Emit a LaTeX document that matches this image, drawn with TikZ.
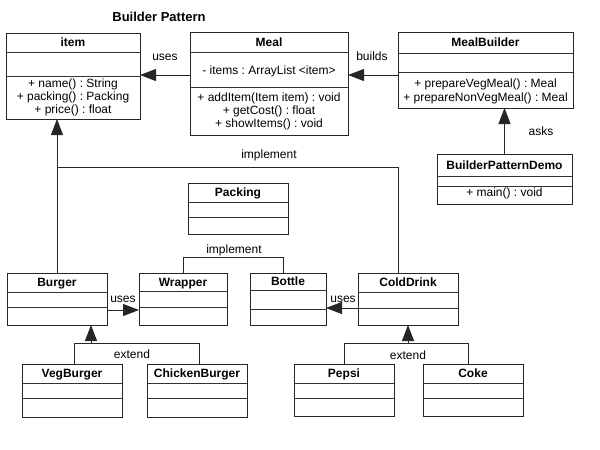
\documentclass[tikz,border=0pt]{standalone}
\usepackage{fontspec}
\setmainfont{Liberation Sans}
\usetikzlibrary{arrows.meta,calc}
\frenchspacing
\tikzset{
  cls/.style={draw=black!85, line width=0.9pt, rectangle, inner sep=0pt, outer sep=0pt, fill=white},
  div/.style={draw=black!80, line width=0.9pt},
  conn/.style={draw=black!85, line width=0.9pt},
  arr/.style={conn, -{Triangle[length=16pt,width=12pt]}},
  ttl/.style={font=\bfseries\fontsize{12}{14}\selectfont, inner sep=0pt, text height=8.6pt, text depth=0pt},
  txt/.style={font=\fontsize{12}{14}\selectfont, inner sep=0pt, text height=8.6pt, text depth=0pt},
  bigttl/.style={font=\bfseries\fontsize{13}{15}\selectfont, inner sep=0pt, text height=9.3pt, text depth=0pt}
}
\newcommand{\umlclass}[8]{%
  \node[cls, minimum width={#4pt-#2pt}, minimum height={#5pt-#3pt}] (#1) at ({(#2+#4)/2},{(#3+#5)/2}) {};
  \draw[div] (#2,#6) -- (#4,#6);
  \draw[div] (#2,#7) -- (#4,#7);
  \node[ttl] (#1-t) at ({(#2+#4)/2},{(#3+#6)/2}) {#8};
}
\newcommand{\lbl}[4]{\node[txt] (#1) at (#2,#3) {#4};}
\begin{document}
\begin{tikzpicture}[x=1pt,y=-1pt]
\useasboundingbox (0,0) rectangle (600,450);
\node[bigttl] (title) at (159,17) {Builder Pattern};

\umlclass{item}{6}{33}{140}{119}{52}{76}{item}
\umlclass{Meal}{190}{32}{348}{135}{52}{87}{Meal}
\umlclass{MB}{398}{32}{573}{108}{53}{72}{MealBuilder}
\umlclass{BPD}{437}{154}{572}{204}{176}{186}{BuilderPatternDemo}
\umlclass{Packing}{188}{183}{288}{234}{202}{217}{Packing}
\umlclass{Burger}{7}{273}{107}{325}{292}{307}{Burger}
\umlclass{Wrapper}{139}{273}{227}{325}{291}{307}{Wrapper}
\umlclass{Bottle}{250}{273}{326}{325}{290}{309}{Bottle}
\umlclass{ColdDrink}{358}{273}{458}{325}{292}{308}{ColdDrink}
\umlclass{VegBurger}{22}{364}{122}{417}{383}{398}{VegBurger}
\umlclass{ChickenBurger}{147}{364}{247}{417}{383}{398}{ChickenBurger}
\umlclass{Pepsi}{294}{364}{394}{416}{383}{398}{Pepsi}
\umlclass{Coke}{423}{364}{523}{416}{383}{398}{Coke}

% class members
\lbl{im1}{73}{83}{+ name() : String}
\lbl{im2}{73}{96}{+ packing() : Packing}
\lbl{im3}{73}{109}{+ price() : float}
\lbl{ma1}{269}{70}{- items : ArrayList <item>}
\lbl{mm1}{269}{97}{+ addItem(Item item) : void}
\lbl{mm2}{269}{110}{+ getCost() : float}
\lbl{mm3}{269}{123}{+ showItems() : void}
\lbl{bm1}{485.5}{83.5}{+ prepareVegMeal() : Meal}
\lbl{bm2}{485.5}{97.5}{+ prepareNonVegMeal() : Meal}
\lbl{dm1}{504.5}{192}{+ main() : void}

% connectors
\draw[arr] ([yshift=8.5pt]Meal.west) -- ([yshift=8.5pt]Meal.west -| item.east);
\draw[arr] ([yshift=-5pt]MB.west) -- ([yshift=-5pt]MB.west -| Meal.east);
\draw[arr] (BPD.north) -- (BPD.north |- MB.south);
\draw[arr] (Burger.north) -- (Burger.north |- item.south);
\coordinate (impy) at (0,167);
\coordinate (cdtop) at ([xshift=-10pt]ColdDrink.north);
\draw[conn] (Burger.north |- impy) -| (cdtop);
\coordinate (pky) at (0,257);
\coordinate (bttop) at ([xshift=-5pt]Bottle.north);
\draw[conn] (Wrapper.north) |- (bttop |- pky) -- (bttop);
\draw[arr] ([yshift=-11pt]Burger.east) -- ([yshift=-11pt]Burger.east -| Wrapper.west);
\draw[arr] ([yshift=-9pt]ColdDrink.west) -- ([yshift=-9pt]ColdDrink.west -| Bottle.east);
% extend Burger
\coordinate (exy) at (0,343);
\coordinate (bgt) at ([xshift=34pt]Burger.south);
\coordinate (vgt) at ([xshift=2pt]VegBurger.north);
\coordinate (cht) at ([xshift=2pt]ChickenBurger.north);
\draw[conn] (vgt) |- (cht |- exy) -- (cht);
\draw[arr] (bgt |- exy) -- (bgt);
% extend ColdDrink
\coordinate (pst) at (Pepsi.north);
\coordinate (ckt) at ([xshift=-5pt]Coke.north);
\draw[conn] (pst) |- (ckt |- exy) -- (ckt);
\draw[arr] (ColdDrink.south |- exy) -- (ColdDrink.south);

% connector labels
\lbl{l1}{165}{56}{uses}
\lbl{l2}{372}{56}{builds}
\lbl{l3}{541}{131}{asks}
\lbl{l4}{269}{154}{implement}
\lbl{l5}{234}{249}{implement}
\lbl{l6}{123}{298}{uses}
\lbl{l7}{343}{298}{uses}
\lbl{l8}{132}{354}{extend}
\lbl{l9}{408}{355}{extend}
\end{tikzpicture}
\end{document}
